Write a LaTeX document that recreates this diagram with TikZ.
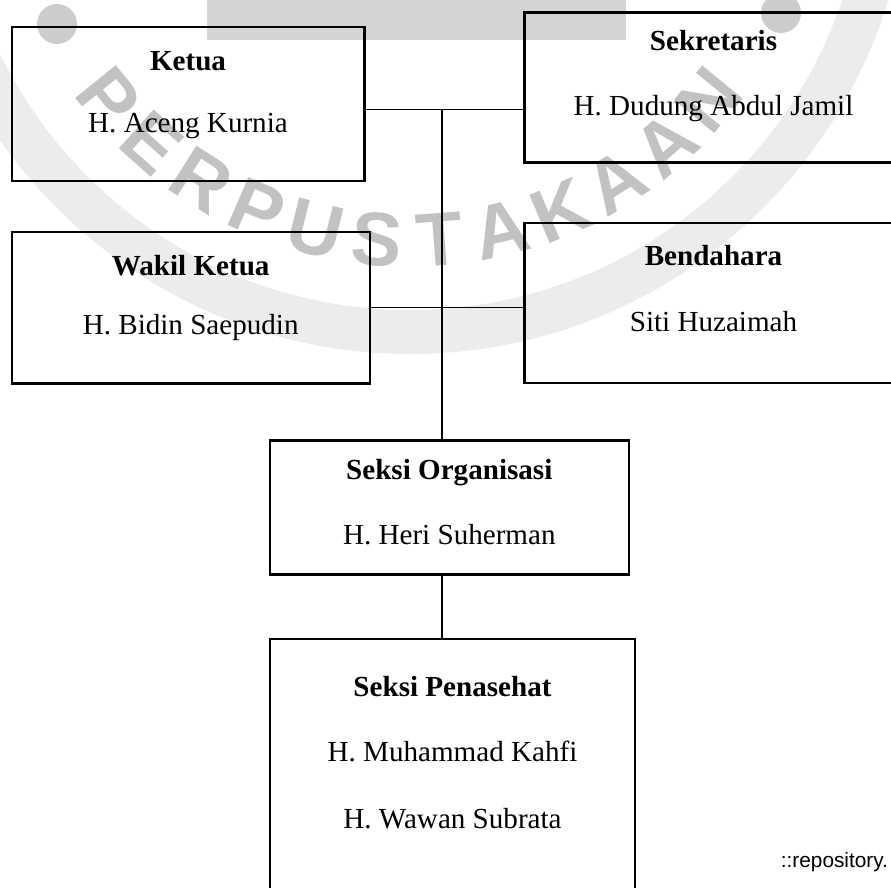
\documentclass[tikz,border=0pt]{standalone}
\usepackage{fontspec}
\setmainfont{Liberation Serif}
\newfontfamily\arialfont{Liberation Sans}
\usetikzlibrary{calc}
\begin{document}
\begin{tikzpicture}[x=1pt,y=-1pt,
  orgbox/.style={draw=black, line width=2.4pt, inner sep=0pt, outer sep=0pt, anchor=north west},
  titletext/.style={font=\bfseries\fontsize{29.1}{35}\selectfont, anchor=base, inner sep=0pt},
  nametext/.style={font=\fontsize{29.1}{35}\selectfont, anchor=base, inner sep=0pt},
  link/.style={draw=black, line width=1.1pt},
  wmletter/.style={font=\arialfont\bfseries\fontsize{76}{80}\selectfont, inner sep=0pt, text=black, opacity=0.24}]
\useasboundingbox (0,0) rectangle (891,888);
\clip (0,0) rectangle (891,888);
\fill[white] (0,0) rectangle (891,888);

% boxes
\node[orgbox, minimum width=352.6pt, minimum height=153.7pt] (ketua) at (11.7,27.3) {};
\node[orgbox, minimum width=378pt, minimum height=149.6pt] (sekr) at (524.3,12.7) {};
\node[orgbox, minimum width=358.3pt, minimum height=151.6pt] (wakil) at (11.7,231.7) {};
\node[orgbox, minimum width=378pt, minimum height=160pt] (bend) at (524.3,222.7) {};
\node[orgbox, minimum width=358.7pt, minimum height=134pt] (org) at (270,440.3) {};
\node[orgbox, minimum width=365pt, minimum height=300pt] (pen) at (270,639) {};

% texts
\node[titletext] (tketua) at (188,71) {Ketua};
\node[nametext] (nketua) at (188,132) {H. Aceng Kurnia};
\node[titletext] (tsekr) at (713.5,50.7) {Sekretaris};
\node[nametext] (nsekr) at (713.5,115.7) {H. Dudung Abdul Jamil};
\node[titletext] (twakil) at (190.7,275) {Wakil Ketua};
\node[nametext] (nwakil) at (190.7,334) {H. Bidin Saepudin};
\node[titletext] (tbend) at (713.5,265.7) {Bendahara};
\node[nametext] (nbend) at (713.5,331) {Siti Huzaimah};
\node[titletext] (torg) at (449.3,479.3) {Seksi Organisasi};
\node[nametext] (norg) at (449.3,544.3) {H. Heri Suherman};
\node[titletext] (tpen) at (452.5,696.7) {Seksi Penasehat};
\node[nametext] (npen1) at (452.5,761.7) {H. Muhammad Kahfi};
\node[nametext] (npen2) at (452.5,828.3) {H. Wawan Subrata};
\node[font=\arialfont\fontsize{20.8}{24}\selectfont, anchor=base west, inner sep=0pt] (repo) at (780.7,867.7) {::repository.};

% connectors
\coordinate (j1) at (442,109.7);
\coordinate (j2) at (442,307.3);
\draw[link] (ketua.east |- j1) -- (sekr.west |- j1);
\draw[link] (wakil.east |- j2) -- (bend.west |- j2);
\draw[link] (j1) -- (j1 |- org.north);
\draw[link] (org.south -| j1) -- (pen.north -| j1);

% watermark
\fill[black, opacity=0.17] (207,0) rectangle (626,40);
\fill[black, opacity=0.2] (57,24) circle[radius=20pt];
\fill[black, opacity=0.2] (781,13) circle[radius=20pt];
\draw[black, opacity=0.075, line width=44pt] (410,-146) circle[radius=478pt];
\foreach \l [count=\i from 0] in {P,E,R,P,U,S,T,A,K,A,A,N} {
  \pgfmathsetmacro\ang{219+9.23*\i}
  \node[wmletter, rotate=\ang+90] (wm\i) at ($(410,-146)+(\ang:387pt)$) {\l};
}
\end{tikzpicture}
\end{document}
